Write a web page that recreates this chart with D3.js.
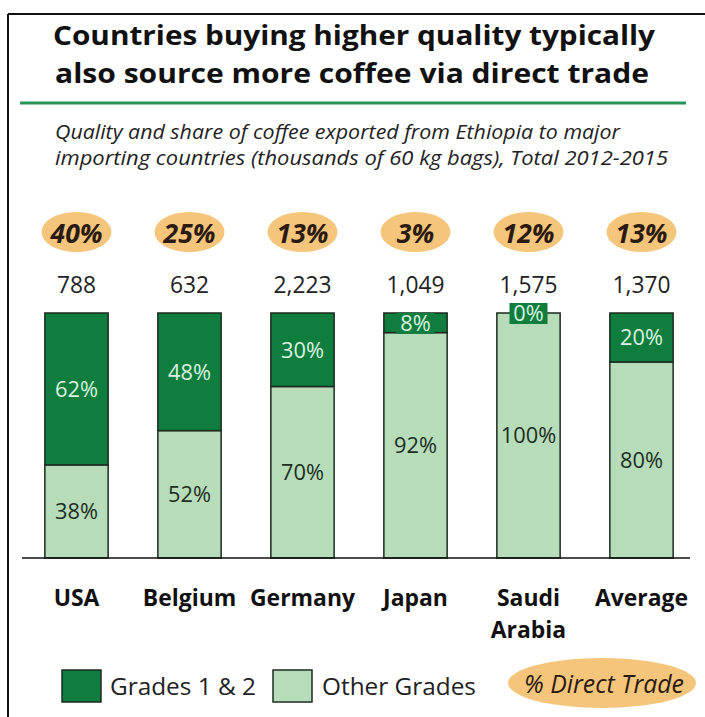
<!DOCTYPE html>
<html>
<head>
<meta charset="utf-8">
<script src="https://cdn.jsdelivr.net/npm/d3@7"></script>
<style>
  body { margin: 0; background: #fff; }
  svg { display: block; font-family: "Open Sans", Lato, sans-serif; }
</style>
</head>
<body>
<svg id="chart" width="705" height="717"></svg>
<script>
// datos
const categories = ["USA", "Belgium", "Germany", "Japan", "Saudi Arabia", "Average"];
const grades12 = [62, 48, 30, 8, 0, 20];
const otherGrades = [38, 52, 70, 92, 100, 80];
const totals = [788, 632, 2223, 1049, 1575, 1370];
const directTrade = [40, 25, 13, 3, 12, 13];

const darkGreen = "#0e7d3d";
const lightGreen = "#b6dcb9";
const orange = "#f6c57c";

const svg = d3.select("#chart");

// ajusta el tamaño de letra para que un texto mida un ancho dado
function ajustar(sel, ancho) {
  const base = parseFloat(sel.attr("font-size"));
  const w = sel.node().getComputedTextLength();
  const size = base * ancho / w;
  sel.attr("font-size", size);
  return size;
}

// marco
svg.append("line").attr("x1", 8).attr("x2", 705).attr("y1", 14).attr("y2", 14)
  .attr("stroke", "#111").attr("stroke-width", 2);
svg.append("line").attr("x1", 8).attr("x2", 8).attr("y1", 14).attr("y2", 717)
  .attr("stroke", "#111").attr("stroke-width", 2);

// titulo (un poco mas bajo de letra, estirado al ancho del original)
const t1 = svg.append("text").attr("x", 354).attr("y", 45).attr("text-anchor", "middle")
  .attr("font-weight", 700).attr("font-size", 25).attr("fill", "#111")
  .text("Countries buying higher quality typically");
const tSize = ajustar(t1, 602) * 0.9;
t1.attr("font-size", tSize).attr("textLength", 602).attr("lengthAdjust", "spacingAndGlyphs");
svg.append("text").attr("x", 352).attr("y", 83).attr("text-anchor", "middle")
  .attr("font-weight", 700).attr("font-size", tSize).attr("fill", "#111")
  .attr("textLength", 594).attr("lengthAdjust", "spacingAndGlyphs")
  .text("also source more coffee via direct trade");

svg.append("line").attr("x1", 20).attr("x2", 686).attr("y1", 103).attr("y2", 103)
  .attr("stroke", "#2a9456").attr("stroke-width", 3);

const s1 = svg.append("text").attr("x", 55).attr("y", 139).attr("font-style", "italic")
  .attr("font-size", 16).attr("fill", "#222")
  .text("Quality and share of coffee exported from Ethiopia to major");
const sSize = ajustar(s1, 565) * 0.9;
s1.attr("font-size", sSize).attr("textLength", 565).attr("lengthAdjust", "spacingAndGlyphs");
svg.append("text").attr("x", 55).attr("y", 165).attr("font-style", "italic")
  .attr("font-size", sSize).attr("fill", "#222")
  .attr("textLength", 613).attr("lengthAdjust", "spacingAndGlyphs")
  .text("importing countries (thousands of 60 kg bags), Total 2012-2015");

// escalas
const x = d3.scaleBand().domain(categories).range([20, 698])
  .paddingInner(0.44).paddingOuter(0.22);
const y = d3.scaleLinear().domain([0, 100]).range([558, 313]);

const rows = categories.map((c, i) => ({
  cat: c, g: grades12[i], o: otherGrades[i], total: totals[i], dt: directTrade[i]
}));
const cx = d => x(d.cat) + x.bandwidth() / 2;

// barras: otras (abajo) y grados 1 y 2 (arriba)
svg.append("g").selectAll("rect").data(rows).enter().append("rect")
  .attr("x", d => x(d.cat)).attr("width", x.bandwidth())
  .attr("y", d => y(d.o)).attr("height", d => y(0) - y(d.o))
  .attr("fill", lightGreen).attr("stroke", "#1d2b1f").attr("stroke-width", 1.5);

svg.append("g").selectAll("rect").data(rows.filter(d => d.g > 0)).enter().append("rect")
  .attr("x", d => x(d.cat)).attr("width", x.bandwidth())
  .attr("y", d => y(d.o + d.g)).attr("height", d => y(d.o) - y(d.o + d.g))
  .attr("fill", darkGreen).attr("stroke", "#1d2b1f").attr("stroke-width", 1.5);

// etiquetas dentro de los segmentos
const prueba = svg.append("text").attr("font-size", 16).text("62%");
const segSize = ajustar(prueba, 43);
prueba.remove();
rows.forEach(d => {
  const midO = (y(0) + y(d.o)) / 2;
  svg.append("text").attr("x", cx(d)).attr("y", midO).attr("dy", "0.36em")
    .attr("text-anchor", "middle").attr("font-size", segSize).attr("fill", "#1c2e22")
    .text(d.o + "%");
  const midG = (y(d.o) + y(d.o + d.g)) / 2;
  if (d.g < 12) {
    // caja verde para los segmentos muy pequeños
    svg.append("rect").attr("x", cx(d) - 19).attr("width", 38)
      .attr("y", midG - 10).attr("height", 21).attr("fill", darkGreen);
  }
  svg.append("text").attr("x", cx(d)).attr("y", midG).attr("dy", "0.36em")
    .attr("text-anchor", "middle").attr("font-size", segSize).attr("fill", "#d8f3e0")
    .text(d.g + "%");
});

// linea base
svg.append("line").attr("x1", 22).attr("x2", 690).attr("y1", y(0)).attr("y2", y(0))
  .attr("stroke", "#111").attr("stroke-width", 1.5);

// totales
const pruebaT = svg.append("text").attr("font-size", 16).text("2,223");
const totSize = ajustar(pruebaT, 58);
pruebaT.remove();
svg.append("g").selectAll("text").data(rows).enter().append("text")
  .attr("x", cx).attr("y", 285).attr("dy", "0.36em").attr("text-anchor", "middle")
  .attr("font-size", totSize).attr("fill", "#222").text(d => d3.format(",")(d.total));

// ovalos de comercio directo
const pruebaO = svg.append("text").attr("font-size", 18).attr("font-weight", 700)
  .attr("font-style", "italic").text("40%");
const ovSize = ajustar(pruebaO, 52);
pruebaO.remove();
svg.append("g").selectAll("ellipse").data(rows).enter().append("ellipse")
  .attr("cx", cx).attr("cy", 232).attr("rx", 35).attr("ry", 20).attr("fill", orange);
svg.append("g").selectAll("text").data(rows).enter().append("text")
  .attr("x", cx).attr("y", 233).attr("dy", "0.36em").attr("text-anchor", "middle")
  .attr("font-size", ovSize).attr("font-weight", 700).attr("font-style", "italic")
  .attr("fill", "#2b1a10").text(d => d.dt + "%");

// eje de categorias
const pruebaC = svg.append("text").attr("font-size", 18).attr("font-weight", 700).text("Germany");
const catSize = ajustar(pruebaC, 105);
pruebaC.remove();
const xAxis = svg.append("g").attr("transform", `translate(0, 598)`)
  .call(d3.axisBottom(x).tickSize(0).tickPadding(0));
xAxis.select(".domain").remove();
xAxis.selectAll("text")
  .attr("font-family", "'Open Sans', Lato, sans-serif")
  .attr("font-size", catSize).attr("font-weight", 700).attr("fill", "#111")
  .attr("y", 0).attr("dy", "0.36em")
  .each(function(d) {
    const t = d3.select(this);
    const words = d.split(" ");
    if (words.length > 1) {
      t.text(null);
      words.forEach((w, i) => t.append("tspan").attr("x", 0)
        .attr("dy", i === 0 ? "0.36em" : "1.4em").text(w));
      t.attr("dy", null);
    }
  });

// leyenda
const leg = svg.append("g");
leg.append("rect").attr("x", 62).attr("y", 670).attr("width", 39).attr("height", 32)
  .attr("fill", darkGreen).attr("stroke", "#1d2b1f").attr("stroke-width", 1.5);
const l1 = leg.append("text").attr("x", 110).attr("y", 686).attr("dy", "0.36em")
  .attr("font-size", 18).attr("fill", "#222").text("Grades 1 & 2");
const legSize = ajustar(l1, 146);
leg.append("rect").attr("x", 273).attr("y", 670).attr("width", 39).attr("height", 32)
  .attr("fill", lightGreen).attr("stroke", "#1d2b1f").attr("stroke-width", 1.5);
leg.append("text").attr("x", 322).attr("y", 686).attr("dy", "0.36em")
  .attr("font-size", legSize).attr("fill", "#222").text("Other Grades");
leg.append("ellipse").attr("cx", 602).attr("cy", 683).attr("rx", 94).attr("ry", 25).attr("fill", orange);
const l3 = leg.append("text").attr("x", 604).attr("y", 684).attr("dy", "0.36em").attr("text-anchor", "middle")
  .attr("font-size", 18).attr("font-style", "italic").attr("fill", "#2b1a10").text("% Direct Trade");
ajustar(l3, 160);
</script>
</body>
</html>
